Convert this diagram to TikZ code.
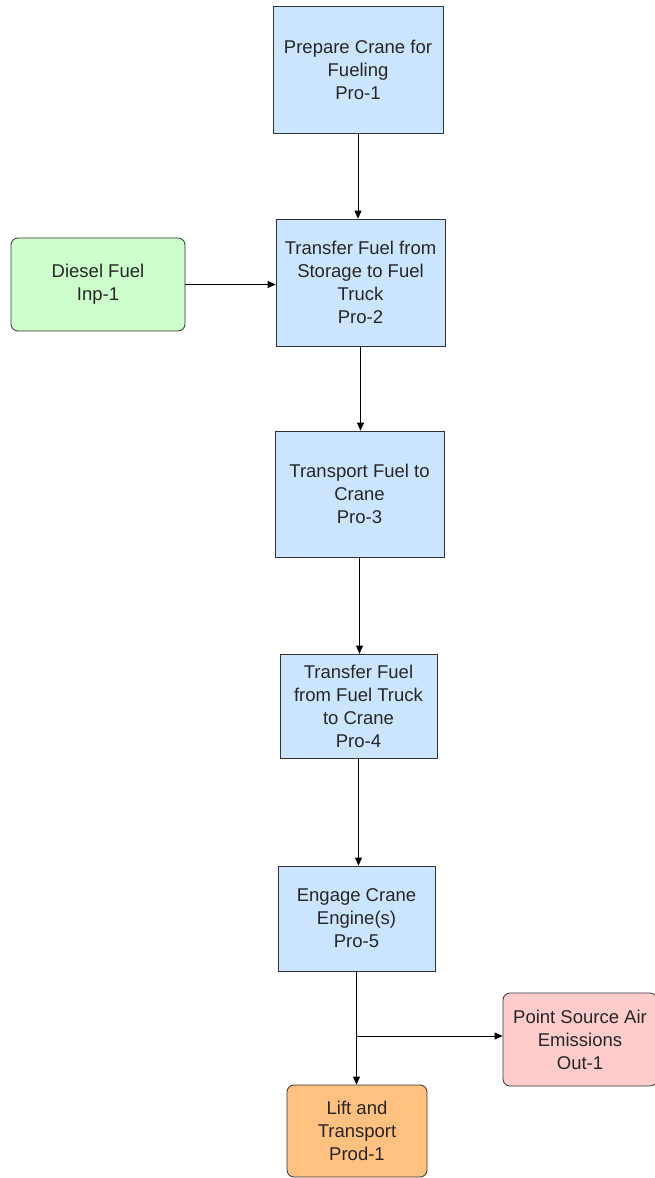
\documentclass[tikz,border=0pt]{standalone}
\usepackage{fontspec}
\setmainfont{Liberation Sans}
\usetikzlibrary{arrows.meta}
\definecolor{proc}{HTML}{CCE5FF}
\definecolor{inp}{HTML}{CCFFCC}
\definecolor{outc}{HTML}{FFCCCC}
\definecolor{prod}{HTML}{FFC080}
\definecolor{edge}{HTML}{333333}
\tikzset{
  base/.style={draw=edge, line width=0.8pt, align=center, inner sep=0pt,
    font=\fontsize{18.5}{23}\selectfont, text=black!85},
  procbox/.style={base, fill=proc},
  inpbox/.style={base, fill=inp, rounded corners=7pt},
  outbox/.style={base, fill=outc, rounded corners=7pt},
  prodbox/.style={base, fill=prod, rounded corners=7pt},
  conn/.style={draw=black, line width=0.8pt, -{Triangle[length=8pt,width=7pt]}}
}
\begin{document}
\begin{tikzpicture}[x=1pt,y=-1pt]
\useasboundingbox (0,0) rectangle (655,1178);
\node[procbox, minimum width=170pt, minimum height=127pt] (p1) at (358,69.5) {Prepare Crane for\\Fueling\\Pro-1};
\node[procbox, minimum width=169pt, minimum height=127pt] (p2) at (360.5,282.5) {Transfer Fuel from\\Storage to Fuel\\Truck\\Pro-2};
\node[inpbox, minimum width=174pt, minimum height=93pt] (i1) at (98,284.5) {Diesel Fuel\\Inp-1};
\node[procbox, minimum width=169pt, minimum height=126pt] (p3) at (359.5,494) {Transport Fuel to\\Crane\\Pro-3};
\node[procbox, minimum width=157pt, minimum height=104pt] (p4) at (358.5,706) {Transfer Fuel\\from Fuel Truck\\to Crane\\Pro-4};
\node[procbox, minimum width=157pt, minimum height=105pt] (p5) at (356.5,918.5) {Engage Crane\\Engine(s)\\Pro-5};
\node[outbox, minimum width=154pt, minimum height=93pt] (o1) at (580,1039.5) {Point Source Air\\Emissions\\Out-1};
\node[prodbox, minimum width=140pt, minimum height=92pt] (pr1) at (357,1131) {Lift and\\Transport\\Prod-1};
\coordinate (br) at (p5.south |- 0,1036);
\draw[conn] (p1.south) -- (p1.south |- p2.north);
\draw[conn] (i1.east) -- (i1.east -| p2.west);
\draw[conn] (p2.south) -- (p2.south |- p3.north);
\draw[conn] (p3.south) -- (p3.south |- p4.north);
\draw[conn] (p4.south) -- (p4.south |- p5.north);
\draw[conn] (p5.south) -- (p5.south |- pr1.north);
\draw[conn] (br) -- (br -| o1.west);
\end{tikzpicture}
\end{document}
